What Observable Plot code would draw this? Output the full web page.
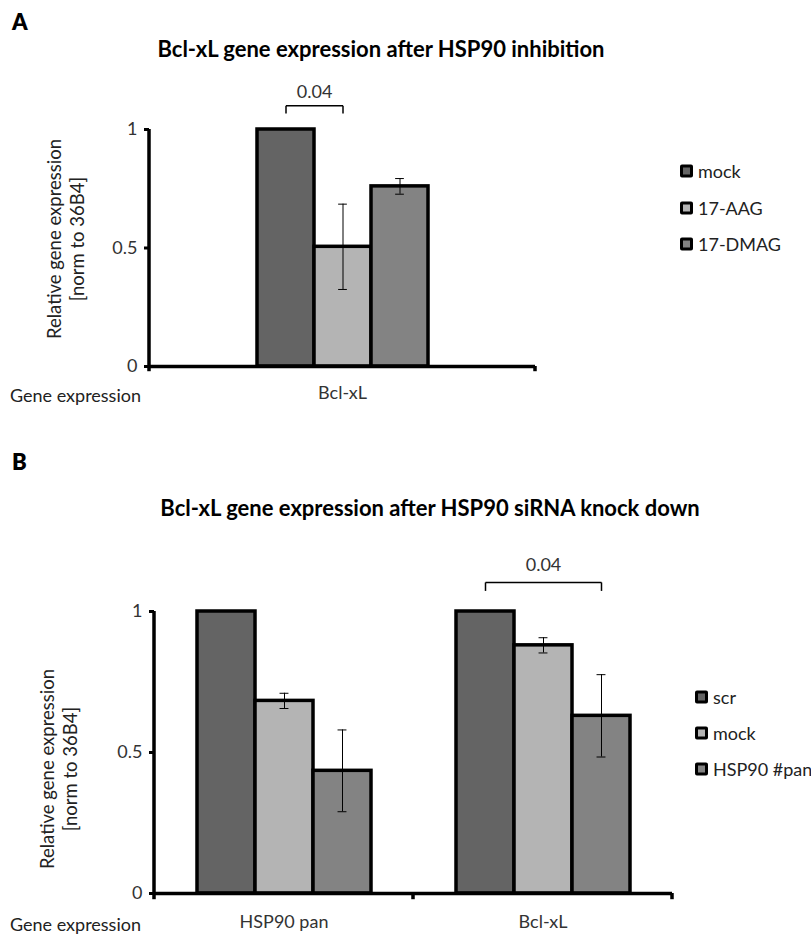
<!DOCTYPE html>
<html>
<head>
<meta charset="utf-8">
<script src="https://cdn.jsdelivr.net/npm/d3@7"></script>
<script src="https://cdn.jsdelivr.net/npm/@observablehq/plot@0.6"></script>
<style>
  body { margin: 0; background: #fff; font-family: Lato, "Open Sans", sans-serif; }
  #root { position: relative; width: 811px; height: 937px; overflow: hidden; background: #fff; }
  .abs { position: absolute; white-space: nowrap; line-height: 1; }
  .title { font-weight: 700; font-size: 22px; color: #000; transform: translate(-50%, -50%); }
  .panel { font-weight: 800; font-size: 22px; color: #000; transform: translateY(-50%); }
  .txt { font-size: 18px; color: #222; transform: translateY(-50%); }
  .ylab { font-size: 18.5px; color: #222; line-height: 23px; text-align: center;
          transform: translate(-50%, -50%) rotate(-90deg); }
  .sw { position: absolute; width: 7px; height: 7px; border: 3px solid #000; border-radius: 2px; transform: translateY(-50%); }
  .pp text { fill: #333; }
  .pp [aria-label="y-axis"] .tick line, .pp [aria-label="y-axis tick"] path { stroke-width: 3px; }
</style>
</head>
<body>
<div id="root"></div>
<script>
// ---------- Data ----------
const yTicks = [0, 0.5, 1];

// Panel A
const genesA = ["Bcl-xL"];
const seriesA = ["mock", "17-AAG", "17-DMAG"];
const valuesA = [[1.0, 0.505, 0.76]];
const errorsA = [[0, 0.18, 0.033]];
const colorsA = ["#646464", "#b4b4b4", "#838383"];
const bracketsA = [{gene: "Bcl-xL", from: "mock", to: "17-AAG", y: 1.10, tick: 0.033, label: "0.04", labelAt: "mock", labelShift: 0.5, labelY: 1.156}];

// Panel B
const genesB = ["HSP90 pan", "Bcl-xL"];
const seriesB = ["scr", "mock", "HSP90 #pan"];
const valuesB = [[1.0, 0.683, 0.435], [1.0, 0.88, 0.63]];
const errorsB = [[0, 0.027, 0.145], [0, 0.027, 0.146]];
const colorsB = ["#646464", "#b4b4b4", "#838383"];
const bracketsB = [{gene: "Bcl-xL", from: "scr", to: "HSP90 #pan", y: 1.103, tick: 0.03, label: "0.04", labelAt: "mock", labelShift: 0, labelY: 1.163}];

// ---------- Helpers ----------
const root = document.getElementById("root");
function addText(cls, text, left, top) {
  const d = document.createElement("div");
  d.className = "abs " + cls;
  d.textContent = text;
  d.style.left = left + "px";
  d.style.top = top + "px";
  root.appendChild(d);
  return d;
}
function addYLabel(lines, cx, cy) {
  const d = document.createElement("div");
  d.className = "abs ylab";
  d.innerHTML = lines.map(l => `<div>${l}</div>`).join("");
  d.style.left = cx + "px";
  d.style.top = cy + "px";
  root.appendChild(d);
}
function addLegend(series, colors, left, tops) {
  series.forEach((s, i) => {
    const sw = document.createElement("div");
    sw.className = "sw";
    sw.style.left = left + "px";
    sw.style.top = tops[i] + "px";
    sw.style.background = colors[i];
    root.appendChild(sw);
    addText("txt", s, left + 18, tops[i]);
  });
}

function panel(cfg) {
  const {genes, series, values, errors, colors, brackets, top, height,
         marginLeft, marginRight, marginTop, marginBottom, padOuter, fxPadding} = cfg;
  const table = [];
  genes.forEach((g, i) => series.forEach((s, j) => {
    const row = {gene: g, series: s, value: values[i][j], err: errors[i][j]};
    const b = brackets.find(b => b.gene === g && b.from === s);
    if (b) Object.assign(row, {bTo: b.to, bY: b.y, bTickY: b.y - b.tick, bLabel: b.label, bLabelAt: b.labelAt, bLabelY: b.labelY, bShift: b.labelShift});
    table.push(row);
  }));
  const width = 811;
  const facetW = (width - marginLeft - marginRight) / genes.length;
  const step = facetW / (series.length + 2 * padOuter);
  const capInset = (step - 9) / 2;
  const shift = (brackets[0] ? brackets[0].labelShift : 0) * step;
  const hasErr = d => d.err > 0;
  const hasBr = d => d.bTo !== undefined;

  const chart = Plot.plot({
    width, height, marginLeft, marginRight, marginTop, marginBottom,
    className: "pp",
    style: {fontFamily: "Lato, 'Open Sans', sans-serif", fontSize: "18px", color: "#000", background: "transparent", overflow: "visible"},
    facet: {data: table, x: "gene"},
    fx: {domain: genes, padding: 0, axis: "bottom", label: null, tickSize: 0, tickPadding: fxPadding},
    x: {domain: series, paddingInner: 0, paddingOuter: padOuter, axis: null},
    y: {domain: [0, 1], ticks: yTicks, tickSize: 5, tickPadding: 7, tickFormat: d => String(d), label: null},
    color: {domain: series, range: colors},
    marks: [
      Plot.barY(table, {x: "series", y: "value", fill: "series", stroke: "#000", strokeWidth: 3.5}),
      // error bars
      Plot.ruleX(table, {filter: hasErr, x: "series", y1: d => d.value - d.err, y2: d => d.value + d.err, stroke: "#000", strokeWidth: 1}),
      Plot.tickY(table, {filter: hasErr, x: "series", y: d => d.value + d.err, insetLeft: capInset, insetRight: capInset, stroke: "#000", strokeWidth: 1}),
      Plot.tickY(table, {filter: hasErr, x: "series", y: d => d.value - d.err, insetLeft: capInset, insetRight: capInset, stroke: "#000", strokeWidth: 1}),
      // x axis line and category-boundary ticks
      Plot.ruleY([0], {stroke: "#000", strokeWidth: 3.5}),
      Plot.rect([0], {y1: 0, y2: -0.022, insetLeft: facetW - 1.75, insetRight: -1.75, fill: "#000"}),
      // y axis line (left facet only)
      Plot.rect(table, {filter: d => d.gene === genes[0] && d.series === series[0], y1: -0.022, y2: 1, insetLeft: -1.75, insetRight: facetW - 1.75, fill: "#000"}),
      // significance brackets
      Plot.link(table, {filter: hasBr, x1: "series", x2: "bTo", y1: "bY", y2: "bY", stroke: "#000", strokeWidth: 1.5}),
      Plot.link(table, {filter: hasBr, x1: "series", x2: "series", y1: "bY", y2: "bTickY", stroke: "#000", strokeWidth: 1.5}),
      Plot.link(table, {filter: hasBr, x1: "bTo", x2: "bTo", y1: "bY", y2: "bTickY", stroke: "#000", strokeWidth: 1.5}),
      Plot.text(table, {filter: hasBr, x: "bLabelAt", y: "bLabelY", text: "bLabel", dx: shift, fill: "#333"})
    ]
  });
  const wrap = document.createElement("div");
  wrap.style.position = "absolute";
  wrap.style.left = "0px";
  wrap.style.top = top + "px";
  wrap.appendChild(chart);
  root.appendChild(wrap);
}

// ---------- Panel A ----------
addText("panel", "A", 12, 22);
addText("title", "Bcl-xL gene expression after HSP90 inhibition", 381, 49);
panel({genes: genesA, series: seriesA, values: valuesA, errors: errorsA, colors: colorsA, brackets: bracketsA,
       top: 0, height: 416, marginLeft: 149, marginRight: 276, marginTop: 129, marginBottom: 50, padOuter: 1.87, fxPadding: 20});
addYLabel(["Relative gene expression", "[norm to 36B4]"], 65.5, 239);
addText("txt", "Gene expression", 10, 395);
addLegend(seriesA, colorsA, 680, [171, 208, 244]);

// ---------- Panel B ----------
addText("panel", "B", 12, 462);
addText("title", "Bcl-xL gene expression after HSP90 siRNA knock down", 430, 508);
panel({genes: genesB, series: seriesB, values: valuesB, errors: errorsB, colors: colorsB, brackets: bracketsB,
       top: 480, height: 457, marginLeft: 154, marginRight: 139, marginTop: 131, marginBottom: 44, padOuter: 0.73, fxPadding: 22});
addYLabel(["Relative gene expression", "[norm to 36B4]"], 58.5, 769);
addText("txt", "Gene expression", 10, 924);
addLegend(seriesB, colorsB, 695, [697, 733, 769]);
</script>
</body>
</html>
